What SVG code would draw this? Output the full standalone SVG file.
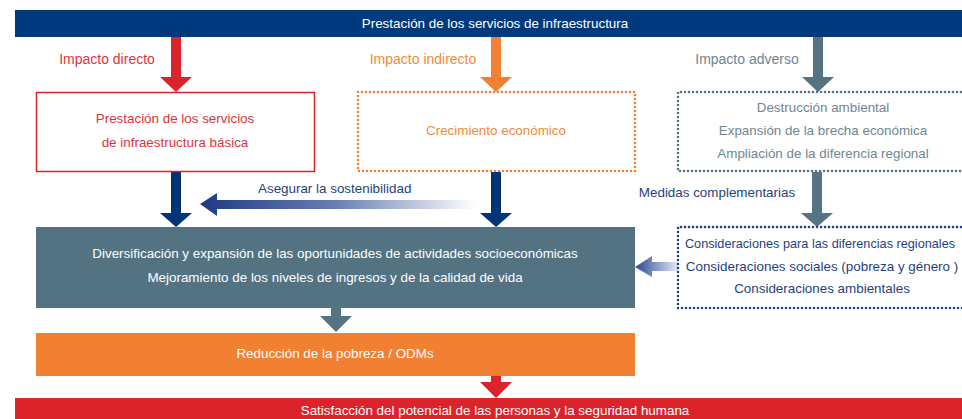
<svg xmlns="http://www.w3.org/2000/svg" width="962" height="419" viewBox="0 0 962 419">
<defs>
<style>
text{font-family:"Liberation Sans",Arial,sans-serif;font-size:13.4px;text-anchor:middle}
.lb{font-size:14px}
.w{fill:#ffffff}
.r{fill:#e0323c}
.o{fill:#f28a3c}
.s{fill:#6e8693}
.n{fill:#1f3f80}
.dot{fill:none;stroke-width:2.6;stroke-linecap:round;stroke-dasharray:0 4}
</style>
<linearGradient id="g1" x1="0" y1="0" x2="1" y2="0">
<stop offset="0" stop-color="#1f3a86"/>
<stop offset="0.5" stop-color="#6b7fb3"/>
<stop offset="1" stop-color="#ffffff"/>
</linearGradient>
<linearGradient id="g2" x1="0" y1="0" x2="1" y2="0">
<stop offset="0" stop-color="#2a4a94"/>
<stop offset="1" stop-color="#e6e9f3"/>
</linearGradient>
</defs>
<g id="connectors">
<path d="M171,37 h10 v40 h11 l-16,15 l-16,-15 h11z" fill="#db232b"/>
<path d="M491,37 h10 v40 h11 l-16,15 l-16,-15 h11z" fill="#f28033"/>
<path d="M813,37 h10 v40 h11 l-16,15 l-16,-15 h11z" fill="#557383"/>
<path d="M171,172 h10 v41 h11 l-16,14 l-16,-14 h11z" fill="#003478"/>
<path d="M491,172 h10 v41 h11 l-16,14 l-16,-14 h11z" fill="#003478"/>
<path d="M812,172 h10 v41 h11 l-16,14 l-16,-14 h11z" fill="#557383"/>
<path d="M200,204 l17,-11 v7 h258 v9 h-258 v7z" fill="url(#g1)"/>
<path d="M635,267 l17,-11 v6 h26 v9 h-26 v6z" fill="url(#g2)"/>
<path d="M331,308 h10 v8 h11 l-16,16 l-16,-16 h11z" fill="#557383"/>
<path d="M491,376 h10 v6 h11 l-16,16 l-16,-16 h11z" fill="#db232b"/>
<text x="258" y="193" class="n" style="text-anchor:start">Asegurar la sostenibilidad</text>
<text x="717" y="197" class="n">Medidas complementarias</text>
<text x="107" y="64" class="r lb">Impacto directo</text>
<text x="423" y="64" class="o lb">Impacto indirecto</text>
<text x="747" y="64" class="s lb">Impacto adverso</text>
</g>
<g id="top">
<rect x="15" y="10" width="947" height="27" fill="#003a7d"/>
<text x="495" y="28" class="w">Prestación de los servicios de infraestructura</text>
</g>
<g id="directo">
<rect x="36.5" y="92.5" width="278" height="79" fill="#fff" stroke="#db232b" stroke-width="1.5"/>
<text x="175" y="123" class="r">Prestación de los servicios</text>
<text x="175" y="147" class="r">de infraestructura básica</text>
</g>
<g id="indirecto">
<rect x="358" y="92" width="277" height="79" class="dot" stroke="#f28033"/>
<text x="496" y="135" class="o">Crecimiento económico</text>
</g>
<g id="adverso">
<path d="M965,92 H678 V171 H965" class="dot" stroke="#557383"/>
<text x="823" y="112" class="s">Destrucción ambiental</text>
<text x="823" y="135" class="s">Expansión de la brecha económica</text>
<text x="823" y="158" class="s">Ampliación de la diferencia regional</text>
</g>
<g id="oportunidades">
<rect x="36" y="227" width="599" height="81" fill="#537282"/>
<text x="335" y="258" class="w">Diversificación y expansión de las oportunidades de actividades socioeconómicas</text>
<text x="335" y="282" class="w">Mejoramiento de los niveles de ingresos y de la calidad de vida</text>
</g>
<g id="medidas">
<path d="M965,227 H678 V308 H965" class="dot" stroke="#1f3f80"/>
<text x="820" y="248" class="n" style="font-size:12.7px">Consideraciones para las diferencias regionales</text>
<text x="822" y="271" class="n">Consideraciones sociales (pobreza y género )</text>
<text x="822" y="293" class="n">Consideraciones ambientales</text>
</g>
<g id="pobreza">
<rect x="36" y="333" width="599" height="43" fill="#f28033"/>
<text x="335" y="358" class="w">Reducción de la pobreza / ODMs</text>
</g>
<g id="satisfaccion">
<rect x="15" y="398" width="947" height="21" fill="#db232b"/>
<text x="495" y="415" class="w">Satisfacción del potencial de las personas y la seguridad humana</text>
</g>
</svg>
